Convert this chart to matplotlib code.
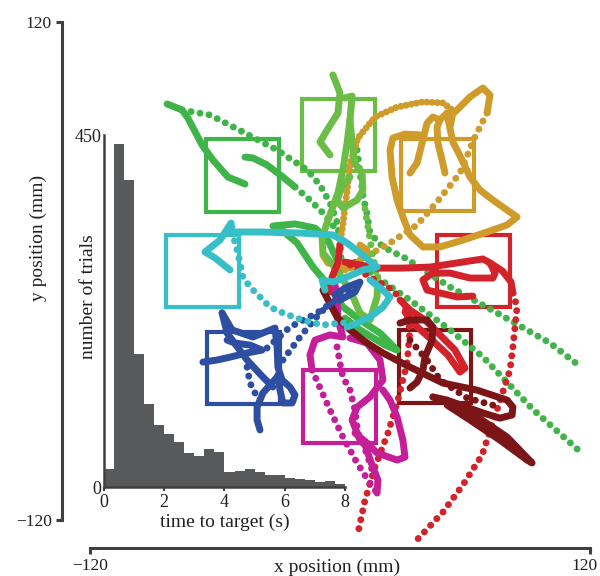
import matplotlib.pyplot as plt
from matplotlib.patches import Rectangle
from matplotlib.transforms import ScaledTranslation

plt.rcParams['font.family'] = ['Liberation Serif', 'DejaVu Serif']

# ---- targets (box centres, mm) ----
target_x = [-46.8, -0.5, 46.6, 64.3, 45.6, -0.2, -46.3, -65.8]
target_y = [46.0, 65.5, 46.3, 0.0, -46.0, -65.3, -46.7, 0.0]
target_size = 35
target_colors = ['#3fb449', '#6bbd45', '#cf9c2b', '#d2232a',
                 '#7c1518', '#c41f98', '#2e4ea1', '#36bfc6']

# ---- cursor trajectories (mm), slow parts drawn solid, fast parts dotted ----
green_solid = [
    [(-83.0, 80.5), (-75.8, 77.6), (-73.0, 73.7), (-66.2, 60.7), (-61.0, 53.5), (-53.8, 45.3), (-45.6, 41.9)],
    [(-45.6, 54.9), (-41.8, 54.5), (-35.0, 51.1), (-27.4, 45.3), (-21.6, 40.5)],
    [(-32.2, 21.7), (-21.6, 22.7), (-12.0, 20.7), (-5.8, 14.9), (-1.4, 5.3), (0.0, -1.9)],
    [(-30.2, 21.7), (-20.6, 13.5), (-12.9, 1.9), (-4.8, -7.7), (1.4, -17.3), (9.6, -23.6), (19.2, -29.9),
     (27.4, -38.1), (21.6, -35.7), (9.6, -28.4), (2.4, -22.7)],
]
green_dotted = [
    [(-75.8, 77.6), (-62.4, 75.2), (-46.6, 67.0), (-30.2, 58.3), (-15.8, 48.7), (-9.6, 41.4), (-4.8, 32.8),
     (-1.4, 23.6), (0.0, 14.9), (0.5, 6.3)],
    [(-21.6, 40.5), (-14.4, 34.2), (-7.2, 27.0), (-1.0, 18.8), (3.8, 11.1)],
    [(8.2, 58.3), (11.0, 36.6), (12.9, 27.9), (14.4, 18.3), (20.6, 11.6), (31.2, 6.3), (52.8, -7.7),
     (75.4, -20.2), (100.8, -34.7), (116.2, -46.7)],
    [(7.2, 4.3), (33.6, -14.0), (52.8, -28.4), (68.6, -41.4), (92.6, -66.7), (116.2, -87.9)],
]

lgreen_solid = [
    [(-3.4, 94.5), (0.0, 85.8), (-1.0, 76.1), (-6.2, 67.9), (-9.6, 62.2), (-4.8, 55.9)],
    [(2.4, 83.4), (5.8, 84.3), (4.8, 72.8), (3.4, 61.7), (1.4, 48.7), (-1.0, 37.6), (-4.8, 27.0),
     (-8.6, 16.4), (-8.2, 8.7), (-3.4, 2.9), (4.8, -9.2), (9.6, -20.2), (14.4, -23.6), (17.8, -12.5),
     (18.2, -2.9)],
    [(4.8, 72.8), (6.0, 60.0), (7.2, 51.8), (10.6, 47.2), (11.0, 39.0), (8.2, 34.2), (1.4, 30.4),
     (-1.4, 34.2), (1.0, 40.5), (4.8, 45.3)],
]
lgreen_dotted = [
    [(12.0, 30.0), (14.4, 14.9), (17.8, -2.9)],
]

gold_solid = [
    [(51.4, 75.2), (54.2, 62.2), (58.6, 53.5), (62.4, 45.3), (67.2, 39.0), (73.4, 34.2), (80.2, 29.4),
     (85.0, 26.0), (80.2, 22.2), (70.6, 18.8), (59.0, 14.9), (48.0, 11.6), (39.8, 11.6), (33.6, 17.4),
     (30.2, 26.0), (27.4, 34.2), (25.0, 45.3), (24.0, 58.3), (25.4, 64.1), (31.2, 66.0), (38.4, 65.6)],
    [(55.2, 76.6), (62.4, 83.9), (68.6, 88.2), (72.0, 84.8), (70.6, 76.2)],
    [(33.6, 47.2), (37.0, 52.1), (39.4, 61.7), (41.8, 71.3), (44.6, 74.2), (48.0, 72.8), (51.4, 76.2),
     (54.2, 76.2), (52.8, 69.4)],
    [(50.4, 47.2), (49.0, 53.5), (47.0, 61.7), (46.6, 69.4), (48.0, 72.8)],
    [(-8.2, 7.7), (-5.8, 3.9), (-1.0, 2.9), (4.8, 1.4), (8.2, 2.9), (13.0, 10.1), (9.6, 12.5)],
]
gold_dense = [
    [(-1.0, 7.7), (1.0, 19.8), (2.9, 34.2), (4.8, 51.1), (8.6, 64.1), (16.8, 74.2), (27.4, 79.0),
     (39.8, 81.5), (49.4, 81.0), (55.2, 76.6)],
]
gold_dotted = [
    [(70.6, 76.2), (67.2, 69.4), (64.8, 64.6), (57.6, 47.2), (53.8, 42.4), (46.6, 33.3), (37.0, 22.2),
     (24.0, 13.5), (9.6, 5.3), (2.4, 0.5)],
]

red_solid = [
    [(2.4, 4.3), (17.8, 1.4), (30.2, 1.4), (43.2, 1.9), (56.2, 3.9), (68.6, 5.8), (72.0, 3.9),
     (74.4, -1.0), (73.4, -3.4), (62.4, -3.4), (52.8, -1.0), (44.6, -1.0), (39.8, -4.3), (41.8, -9.2),
     (48.0, -10.6), (56.2, -12.5), (63.8, -12.1)],
    [(72.0, 3.9), (78.0, 0.0), (82.1, -5.3), (83.0, -10.6)],
    [(28.8, -14.0), (33.6, -18.8), (40.8, -23.6), (48.0, -30.8), (55.2, -38.1), (60.0, -46.8),
     (57.6, -48.7), (51.8, -40.5), (44.2, -33.3), (36.0, -26.0), (31.2, -19.8)],
    [(0.0, 12.5), (-1.0, 3.9), (-3.8, -2.9), (-4.8, -10.1)],
]
red_dotted = [
    [(83.0, -10.6), (85.0, -17.4), (84.0, -27.0), (83.0, -36.6), (81.6, -47.7), (75.8, -65.6),
     (68.2, -88.7), (59.0, -103.1), (49.4, -116.2), (36.0, -130.6)],
    [(4.8, 2.9), (16.8, -4.3), (25.4, -9.2), (31.2, -16.4), (33.6, -28.4), (32.2, -44.3), (27.8, -62.2),
     (23.0, -78.1), (16.8, -94.5), (12.0, -110.4), (8.2, -128.2)],
]

dred_solid = [
    [(-8.2, -9.2), (-1.4, -22.2), (4.8, -28.4), (13.0, -34.7), (20.6, -39.5), (33.6, -46.3),
     (49.4, -54.0), (65.8, -57.4), (80.2, -62.2), (83.0, -65.6), (82.6, -69.4), (76.8, -70.9),
     (68.6, -68.4), (51.4, -62.2), (44.6, -60.7)],
    [(28.8, -25.1), (33.6, -23.6), (41.8, -23.6), (44.6, -27.0), (44.2, -33.3), (40.8, -41.5),
     (39.8, -47.7), (37.0, -53.5), (33.6, -56.4)],
    [(44.6, -60.7), (61.0, -67.0), (80.2, -80.0), (92.2, -92.5), (89.8, -91.1), (76.8, -81.5),
     (62.4, -71.8), (51.4, -64.6)],
]
dred_dotted = [
    [(33.6, -33.3), (41.8, -42.9), (48.0, -52.5), (61.0, -61.2), (76.8, -65.6)],
]

mag_solid = [
    [(-2.4, -6.7), (-1.4, -14.0), (-1.0, -23.6), (1.4, -31.8), (-4.8, -30.8), (-12.0, -33.3),
     (-14.4, -40.5), (-13.4, -47.7)],
    [(17.8, -107.0), (18.2, -100.7), (15.4, -93.5), (12.0, -83.9), (9.6, -81.5), (5.8, -71.8),
     (8.2, -65.6), (14.4, -60.7), (20.6, -52.5), (19.2, -42.9), (13.0, -34.7), (4.8, -32.3)],
    [(7.2, -78.1), (13.0, -82.9), (17.8, -87.7), (27.4, -91.1), (31.2, -89.7), (30.2, -81.5),
     (27.4, -70.4), (24.0, -62.2), (20.6, -57.4)],
]
mag_dotted = [
    [(-13.4, -47.7), (-10.6, -54.0), (-4.8, -67.0), (1.4, -80.0), (8.2, -92.5), (13.4, -100.7),
     (17.8, -107.0)],
    [(-1.4, -36.6), (0.0, -44.3), (1.4, -51.1), (4.8, -57.4), (7.2, -67.0), (8.6, -78.1), (11.0, -82.9),
     (13.4, -89.7), (15.4, -95.9)],
]

blue_solid = [
    [(-56.6, -20.2), (-51.8, -28.4), (-41.8, -31.8), (-31.2, -27.5), (-30.2, -36.6), (-29.8, -46.3),
     (-27.8, -52.5), (-24.0, -55.9), (-21.6, -59.8), (-23.0, -63.6), (-27.4, -63.6), (-28.8, -57.4),
     (-29.8, -50.1)],
    [(-65.8, -43.9), (-59.0, -42.9), (-52.8, -41.5), (-44.6, -39.5), (-37.4, -38.1), (-43.2, -35.7),
     (-50.4, -34.7), (-54.2, -33.3)],
    [(-56.6, -20.2), (-54.2, -29.9), (-44.6, -42.9), (-37.0, -51.1), (-32.2, -55.9)],
    [(-30.2, -51.1), (-37.0, -58.8), (-39.8, -65.6), (-39.8, -71.8), (-38.4, -76.6)],
    [(-2.4, -11.6), (2.4, -8.2), (9.6, -5.3), (7.2, -10.1), (0.0, -14.0)],
]
blue_dotted = [
    [(-35.0, -37.1), (-24.0, -27.0), (-11.0, -20.2), (0.0, -12.5), (8.6, -5.3)],
    [(-44.6, -46.3), (-43.2, -54.0), (-39.8, -60.7)],
    [(-27.4, -42.9), (-19.2, -31.8), (-9.6, -20.2), (-2.4, -14.0)],
]

cyan_solid = [
    [(-52.8, 0.5), (-60.0, 6.3), (-64.8, 9.2), (-57.6, 14.9), (-52.3, 23.1), (-51.8, 18.8), (-38.4, 18.8),
     (-19.2, 18.3), (-3.4, 17.4), (3.4, 13.5), (9.6, 8.7), (17.8, 1.9), (11.0, 0.5), (3.4, -2.9),
     (-3.4, -5.3), (-8.6, -4.3), (-7.2, -9.2)],
    [(14.4, -4.3), (20.6, -9.2), (24.0, -12.5), (20.6, -17.4), (14.4, -22.2), (8.2, -25.1), (3.4, -27.0)],
]
cyan_dotted = [
    [(-51.8, 18.8), (-49.4, 10.1), (-48.0, 3.9), (-46.6, -2.9), (-43.2, -7.7), (-38.4, -12.5),
     (-33.6, -17.4), (-27.4, -20.2), (-20.6, -22.7), (-14.4, -24.6), (-8.2, -26.0), (0.0, -25.1),
     (5.8, -24.6)],
]

# ---- histogram of time to target ----
bin_edges = [i / 3 for i in range(25)]
trial_counts = [23, 438, 392, 170, 106, 79, 68, 58, 43, 40, 48, 45,
                19, 21, 23, 19, 15, 15, 12, 10, 9, 6, 8, 4]

axis_color = '#404041'
text_color = '#231f20'

fig = plt.figure(figsize=(6, 5.76), dpi=100)
ax = fig.add_axes([0.15, 0.0972, 0.8333, 0.8646])

for x0, y0, c in zip(target_x, target_y, target_colors):
    ax.add_patch(Rectangle((x0 - target_size / 2, y0 - target_size / 2), target_size, target_size,
                           fill=False, edgecolor=c, lw=3, zorder=1))


def draw(segs, color, style='solid'):
    for seg in segs:
        xs = [p[0] for p in seg]
        ys = [p[1] for p in seg]
        if style == 'solid':
            ax.plot(xs, ys, color=color, lw=5, solid_capstyle='round',
                    solid_joinstyle='round', clip_on=False, zorder=2)
        else:
            gap = 1.3 if style == 'dotted' else 0.75
            ax.plot(xs, ys, color=color, lw=5, linestyle=(0, (0.01, gap)),
                    dash_capstyle='round', clip_on=False, zorder=2)


draw(green_solid, target_colors[0])
draw(green_dotted, target_colors[0], 'dotted')
draw(gold_solid, target_colors[2])
draw(gold_dense, target_colors[2], 'dense')
draw(gold_dotted, target_colors[2], 'dotted')
draw(lgreen_solid, target_colors[1])
draw(lgreen_dotted, target_colors[1], 'dotted')
draw(red_solid, target_colors[3])
draw(red_dotted, target_colors[3], 'dotted')
draw(mag_solid, target_colors[5])
draw(mag_dotted, target_colors[5], 'dotted')
draw(dred_solid, target_colors[4])
draw(dred_dotted, target_colors[4], 'dotted')
draw(blue_solid, target_colors[6])
draw(blue_dotted, target_colors[6], 'dotted')
draw(cyan_solid, target_colors[7])
draw(cyan_dotted, target_colors[7], 'dotted')

ax.set_xlim(-120, 120)
ax.set_ylim(-120, 120)
ax.set_facecolor('none')
for s in ['top', 'right']:
    ax.spines[s].set_visible(False)
for s in ['left', 'bottom']:
    ax.spines[s].set_position(('outward', 20))
    ax.spines[s].set_color(axis_color)
    ax.spines[s].set_linewidth(2.2)
ax.set_xticks([-120, 120])
ax.set_yticks([-120, 120])
ax.tick_params(length=4, width=2.2, color=axis_color, labelsize=12.5, labelcolor=text_color)
# keep the right-hand "120" inside the canvas
last = ax.get_xticklabels()[-1]
last.set_transform(last.get_transform() + ScaledTranslation(-4 / 72, 0, fig.dpi_scale_trans))
ax.set_xlabel('x position (mm)', fontsize=14, color=text_color)
ax.set_ylabel('y position (mm)', fontsize=14, color=text_color)
ax.xaxis.set_label_coords(0.494, -0.078)
ax.yaxis.set_label_coords(-0.086, 0.566)

# inset histogram
hx = fig.add_axes([0.1733, 0.1545, 0.4017, 0.6111])
hx.set_facecolor('none')
hx.bar(bin_edges[:-1], trial_counts, width=1 / 3, align='edge', color='#58595b', linewidth=0)
hx.set_xlim(0, 8)
hx.set_ylim(0, 450)
for s in ['top', 'right']:
    hx.spines[s].set_visible(False)
for s in ['left', 'bottom']:
    hx.spines[s].set_color(axis_color)
    hx.spines[s].set_linewidth(1.8)
hx.set_xticks([0, 2, 4, 6, 8])
hx.set_yticks([0, 450])
hx.tick_params(axis='x', length=3, width=1.5, color=axis_color, pad=2, labelsize=13, labelcolor=text_color)
hx.tick_params(axis='y', length=0, pad=2, labelsize=13, labelcolor=text_color)
hx.set_xlabel('time to target (s)', fontsize=14, color=text_color, labelpad=2)
hx.set_ylabel('number of trials', fontsize=14, color=text_color)
hx.yaxis.set_label_coords(-0.03, 0.54)

fig.savefig('out.png', dpi=100)
